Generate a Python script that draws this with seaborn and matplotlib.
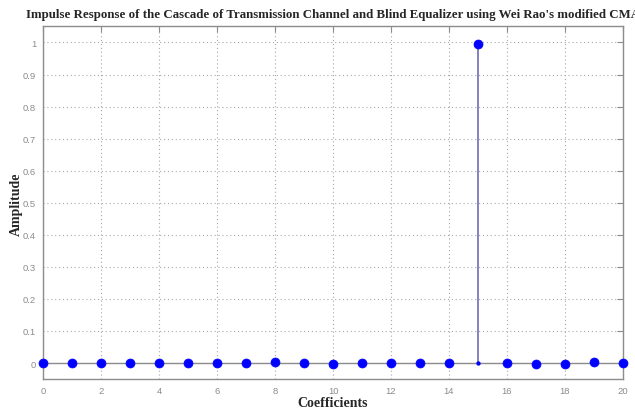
import numpy as np
import pandas as pd
import matplotlib
matplotlib.use("Agg")
import matplotlib.pyplot as plt
import seaborn as sns

coefficients = list(range(21))
amplitude = [0.0, 0.0, 0.0, 0.0, 0.0, 0.0, 0.0, 0.0, 0.004, -0.001, -0.003,
             0.001, 0.0, 0.001, 0.0, 0.995, 0.001, -0.003, -0.002, 0.002, -0.001]
x_ticks = [0, 2, 4, 6, 8, 10, 12, 14, 16, 18, 20]
y_ticks = [0, 0.1, 0.2, 0.3, 0.4, 0.5, 0.6, 0.7, 0.8, 0.9, 1]
y_tick_labels = ["0", "0.1", "0.2", "0.3", "0.4", "0.5", "0.6", "0.7", "0.8", "0.9", "1"]

df = pd.DataFrame({"Coefficients": coefficients, "Amplitude": amplitude})

sns.set_style("white")
plt.rcParams["font.family"] = ["Liberation Sans", "DejaVu Sans"]

fig = plt.figure(figsize=(6.35, 4.10), dpi=100)
ax = fig.add_axes([0.068, 0.073, 0.913, 0.86])

ax.set_xlim(0, 20)
ax.set_ylim(-0.05, 1.05)

# grid
ax.set_xticks(x_ticks)
ax.set_yticks(y_ticks)
ax.set_yticklabels(y_tick_labels)
ax.grid(True, linestyle=(0, (1, 2.5)), color="#a8a8a8", linewidth=0.8)
ax.set_axisbelow(True)

# baseline
ax.axhline(0, color="#8c8c8c", linewidth=1.0, zorder=2)

# stems
ax.vlines(df["Coefficients"], 0, df["Amplitude"], color="#6d6db8", linewidth=1.2, zorder=3)

# markers (small marker where the large stem meets the baseline)
big = df["Amplitude"] > 0.5
sns.scatterplot(data=df, x="Coefficients", y="Amplitude", ax=ax, color="#0000ff",
                s=42, edgecolor="#0000ff", linewidth=0.5, zorder=4, clip_on=False)
sns.scatterplot(data=df[big], x="Coefficients", y=[0.0] * int(big.sum()), ax=ax,
                color="#0000ff", s=8, edgecolor="#0000ff", zorder=5, clip_on=False)

for s in ax.spines.values():
    s.set_color("#8c8c8c")
    s.set_linewidth(1.0)

ax.tick_params(axis="both", colors="#8c8c8c", labelcolor="#8c8c8c", labelsize=6.8,
               direction="in", length=4, width=0.8)
ax.tick_params(axis="x", top=True, pad=5)
ax.tick_params(axis="y", right=True, pad=5)

serif = ["Liberation Serif", "DejaVu Serif"]
ax.set_xlabel("Coefficients", family=serif, fontsize=10, fontweight="bold")
ax.set_ylabel("Amplitude", family=serif, fontsize=10, fontweight="bold")
ax.xaxis.set_label_coords(0.5, -0.048)
ax.yaxis.set_label_coords(-0.035, 0.5)
ax.set_title("Impulse Response of the Cascade of Transmission Channel and Blind Equalizer using Wei Rao's modified CMA",
             family=serif, fontsize=9.3, fontweight="bold", pad=7)

fig.savefig("out.png", dpi=100)
